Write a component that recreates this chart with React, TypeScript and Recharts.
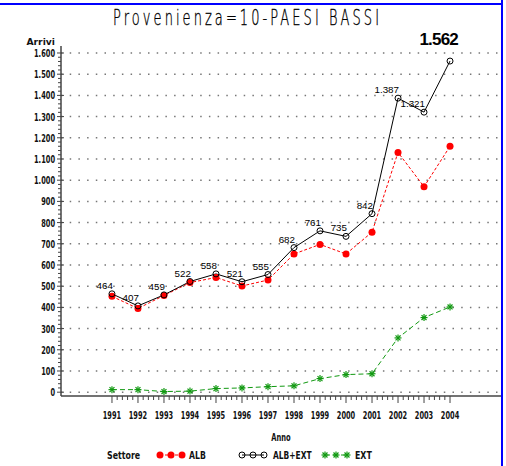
import React from "react";
import {
  LineChart,
  Line,
  XAxis,
  YAxis,
  ReferenceLine,
  LabelList,
} from "recharts";

const years = [1991, 1992, 1993, 1994, 1995, 1996, 1997, 1998, 1999, 2000, 2001, 2002, 2003, 2004];
const albExt = [464, 407, 459, 522, 558, 521, 555, 682, 761, 735, 842, 1387, 1321, 1562];
const alb = [452, 395, 456, 517, 541, 501, 529, 652, 697, 652, 755, 1131, 969, 1160];
const ext = [12, 12, 3, 5, 17, 20, 26, 30, 64, 83, 87, 256, 352, 402];
const yTicks = [0, 100, 200, 300, 400, 500, 600, 700, 800, 900, 1000, 1100, 1200, 1300, 1400, 1500, 1600];

const data = years.map((anno, i) => ({ anno, alb: alb[i], albExt: albExt[i], ext: ext[i] }));

// minor ticks: 4 between each major
const xTickValues = years.flatMap((y, i) =>
  i < years.length - 1 ? [y, y + 0.2, y + 0.4, y + 0.6, y + 0.8] : [y]
);
const yTickValues = yTicks.flatMap((v, i) =>
  i < yTicks.length - 1 ? [v, v + 20, v + 40, v + 60, v + 80] : [v]
);

const fmt = (n: number) => String(n).replace(/\B(?=(\d{3})+(?!\d))/g, ".");

const narrow = "'DejaVu Sans Condensed', 'DejaVu Sans', sans-serif";
const axisColor = "#444";

// squeeze bold condensed text to the narrow SAS look
const textWidth = (s: string) =>
  [...s].reduce((w, c) => w + (c === "." ? 2.6 : c === "+" ? 5 : /[A-Z]/.test(c) ? 5.6 : 4.6), 0);

function NarrowText({ x, y, anchor = "start", size = 11, children }: any) {
  const s = String(children);
  return (
    <text
      x={x}
      y={y}
      textAnchor={anchor}
      fontFamily={narrow}
      fontWeight="bold"
      fontSize={size}
      fill="#111"
      textLength={textWidth(s)}
      lengthAdjust="spacingAndGlyphs"
    >
      {s}
    </text>
  );
}

function XTick({ x, y, payload }: any) {
  const v = payload.value;
  const major = years.includes(v);
  return (
    <g>
      <line x1={x} x2={x} y1={y} y2={y + (major ? 7 : 4)} stroke={axisColor} />
      {major && <NarrowText x={x} y={y + 23} anchor="middle">{v}</NarrowText>}
    </g>
  );
}

function YTick({ x, y, payload }: any) {
  const v = payload.value;
  const major = v % 100 === 0;
  return (
    <g>
      <line x1={major ? x - 4 : x - 3} x2={major ? x + 3 : x} y1={y} y2={y} stroke={axisColor} />
      {major && <NarrowText x={x - 6} y={y + 4} anchor="end">{fmt(v)}</NarrowText>}
    </g>
  );
}

function Circle({ cx, cy }: any) {
  return <circle cx={cx} cy={cy} r={3} fill="none" stroke="#000" strokeWidth={1} />;
}

function Dot({ cx, cy }: any) {
  return <circle cx={cx} cy={cy} r={3.5} fill="#ff0000" stroke="none" />;
}

function Star({ cx, cy }: any) {
  const r = 3.5;
  const d = r * 0.707;
  return (
    <g stroke="#119911" strokeWidth={1.2}>
      <line x1={cx - r} x2={cx + r} y1={cy} y2={cy} />
      <line x1={cx} x2={cx} y1={cy - r} y2={cy + r} />
      <line x1={cx - d} x2={cx + d} y1={cy - d} y2={cy + d} />
      <line x1={cx - d} x2={cx + d} y1={cy + d} y2={cy - d} />
    </g>
  );
}

function ValueLabel({ x, y, value, index }: any) {
  if (index === albExt.length - 1) {
    return (
      <text x={x + 8} y={y - 16} textAnchor="end" fontFamily="'Liberation Sans', Arial, sans-serif" fontWeight="bold" fontSize={17} letterSpacing={-0.8} fill="#000">
        {fmt(value)}
      </text>
    );
  }
  return (
    <text x={x + 1} y={y - 5} textAnchor="end" fontFamily="'Liberation Sans', Arial, sans-serif" fontSize={9.8} fill="#000">
      {fmt(value)}
    </text>
  );
}

function LegendBox() {
  return (
    <svg width={506} height={22} style={{ position: "absolute", left: 0, top: 444 }}>
      <NarrowText x={107} y={15}>Settore</NarrowText>
      <line x1={160} x2={182} y1={11} y2={11} stroke="#ff0000" strokeDasharray="3 2" />
      {[160, 171, 182].map((cx) => <Dot key={cx} cx={cx} cy={11} />)}
      <NarrowText x={189} y={15}>ALB</NarrowText>
      <line x1={242} x2={264} y1={11} y2={11} stroke="#000" />
      {[242, 253, 264].map((cx) => <Circle key={cx} cx={cx} cy={11} />)}
      <NarrowText x={273} y={15}>ALB+EXT</NarrowText>
      <line x1={325} x2={347} y1={11} y2={11} stroke="#119911" strokeDasharray="5 3" />
      {[325, 336, 347].map((cx) => <Star key={cx} cx={cx} cy={11} />)}
      <NarrowText x={355} y={15}>EXT</NarrowText>
    </svg>
  );
}

const titleScale = 0.62;

export default function App() {
  return (
    <div style={{ position: "absolute", left: 0, top: 0, width: 506, height: 466, background: "#fff" }}>
      <svg width={506} height={44} style={{ position: "absolute", left: 0, top: 0 }}>
        <text
          transform={`scale(${titleScale},1)`}
          x={113 / titleScale}
          y={25}
          textLength={266 / titleScale}
          lengthAdjust="spacing"
          fontFamily="'DejaVu Sans', sans-serif"
          fontWeight={200}
          fontSize={21}
          fill="#000"
          stroke="#000"
          strokeWidth={0.35}
        >
          Provenienza=10-PAESI BASSI
        </text>
      </svg>
      <LineChart width={506} height={466} data={data} margin={{ top: 46, right: 5, left: 0, bottom: 40 }}>
        <XAxis
          dataKey="anno"
          type="number"
          domain={[1989.04, 2005.96]}
          allowDataOverflow
          ticks={xTickValues}
          interval={0}
          tick={<XTick />}
          tickLine={false}
          tickSize={0}
          tickMargin={0}
          height={30}
          axisLine={{ stroke: axisColor, strokeWidth: 1.5 }}
          label={({ viewBox }: any) => (
            <NarrowText x={viewBox.x + viewBox.width / 2} y={viewBox.y + 45} anchor="middle">Anno</NarrowText>
          )}
        />
        <XAxis xAxisId="top" orientation="top" type="number" domain={[0, 1]} tick={false} tickLine={false} height={0} axisLine={{ stroke: "#666" }} />
        <YAxis
          type="number"
          domain={[-18, 1633]}
          allowDataOverflow
          ticks={yTickValues}
          interval={0}
          tick={<YTick />}
          tickLine={false}
          tickSize={0}
          tickMargin={0}
          width={61}
          axisLine={{ stroke: axisColor, strokeWidth: 1.5 }}
          label={({ viewBox }: any) => (
            <NarrowText x={viewBox.x + viewBox.width - 6} y={viewBox.y - 1} anchor="end" size={9}>Arrivi</NarrowText>
          )}
        />
        <YAxis yAxisId="right" orientation="right" type="number" domain={[0, 1]} tick={false} tickLine={false} width={0} axisLine={{ stroke: "#666" }} />
        {yTicks.map((v) => (
          <ReferenceLine key={v} y={v} stroke="#777" strokeWidth={1.5} strokeDasharray="1.5 7.2" />
        ))}
        <Line dataKey="ext" stroke="#119911" strokeDasharray="5 3" strokeWidth={1} dot={<Star />} isAnimationActive={false} />
        <Line dataKey="alb" stroke="#ff0000" strokeDasharray="3 2" strokeWidth={1} dot={<Dot />} isAnimationActive={false} />
        <Line dataKey="albExt" stroke="#000" strokeWidth={1} dot={<Circle />} isAnimationActive={false}>
          <LabelList dataKey="albExt" content={<ValueLabel />} />
        </Line>
      </LineChart>
      <LegendBox />
      <div style={{ position: "absolute", left: 0, top: 3, width: 503, height: 1.5, background: "#0000ff" }} />
      <div style={{ position: "absolute", left: 501, top: 0, width: 1.5, height: 466, background: "#0000ff" }} />
    </div>
  );
}
